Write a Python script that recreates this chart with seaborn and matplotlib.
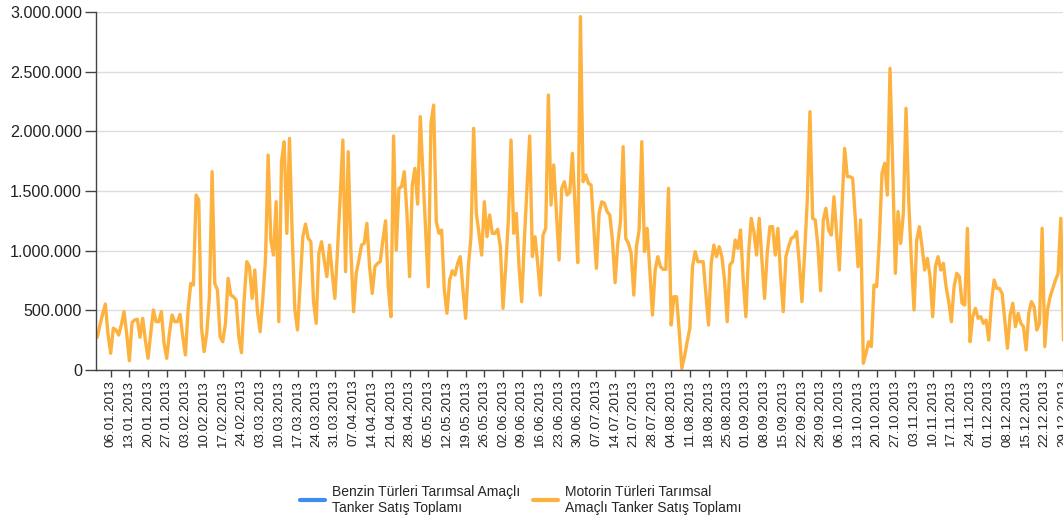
import matplotlib
matplotlib.use("Agg")
import matplotlib.pyplot as plt
from matplotlib.lines import Line2D
import pandas as pd
import seaborn as sns

# daily sales (thousands); Benzin series has no visible values
jan = [275, 380, 470, 553, 300, 140, 350, 335, 293, 380, 490, 300, 78, 397, 420, 425,
       274, 433, 250, 98, 307, 503, 405, 405, 489, 223, 98, 307, 461, 405, 405]
feb = [466, 279, 126, 503, 726, 712, 1466, 1424, 363, 154, 307, 614, 1662, 726, 670,
       279, 237, 391, 768, 628, 614, 586, 279, 145, 586, 908, 866, 600]
mar = [838, 489, 321, 600, 922, 1801, 1089, 963, 1410, 405, 1746, 1913, 1145, 1941,
       1145, 503, 335, 726, 1117, 1223, 1103, 1075, 573, 391, 978, 1075, 922, 782, 1047,
       810, 600]
apr = [1005, 1452, 1927, 824, 1829, 1005, 489, 810, 922, 1047, 1061, 1229, 866, 642,
       866, 894, 908, 1089, 1251, 698, 447, 1961, 1005, 1522, 1536, 1662, 1313, 782,
       1550, 1690]
may = [1390, 2123, 1648, 1173, 698, 2067, 2220, 1243, 1145, 1173, 670, 475, 754, 832,
       796, 894, 950, 670, 433, 866, 1117, 2025, 1313, 1145, 963, 1410, 1117, 1299, 1145,
       1145, 1179]
jun = [1033, 517, 866, 1257, 1927, 1145, 1313, 866, 573, 1089, 1536, 1961, 950, 1117,
       894, 628, 1131, 1187, 2304, 1383, 1718, 1313, 922, 1522, 1578, 1466, 1490, 1815,
       1369, 900]
jul = [2961, 1578, 1634, 1564, 1550, 1201, 852, 1313, 1410, 1397, 1327, 1299, 1089, 732,
       1061, 1243, 1871, 1103, 1061, 978, 628, 1033, 1173, 1913, 992, 1187, 838, 461,
       838, 950, 866]
aug = [843, 843, 1522, 377, 614, 614, 335, 14, 112, 237, 349, 866, 992, 908, 908, 908,
       642, 377, 894, 1047, 950, 1033, 950, 754, 405, 880, 908, 1089, 1019, 1173, 754]
sep = [447, 978, 1271, 1159, 963, 1271, 922, 600, 978, 1201, 1201, 963, 1187, 796, 489,
       950, 1033, 1103, 1117, 1159, 894, 573, 978, 1424, 2165, 1271, 1257, 1033, 665,
       1257]
oct_ = [1355, 1173, 1131, 1452, 1145, 838, 1369, 1857, 1620, 1620, 1606, 1271, 866, 1257,
        56, 140, 237, 196, 712, 698, 1089, 1648, 1732, 1466, 2528, 1700, 810, 1327, 1061,
        1313, 2193]
nov = [1424, 922, 503, 1089, 1201, 1033, 838, 936, 782, 447, 866, 950, 838, 894, 698,
       573, 405, 698, 810, 782, 559, 545, 1187, 237, 447, 517, 433, 447, 391, 419]
dec = [251, 559, 754, 684, 684, 642, 419, 182, 461, 559, 363, 475, 391, 363, 168, 475,
       573, 531, 335, 391, 1187, 196, 503, 614, 684, 754, 810, 1271, 251]

motorin = [v * 1000 for v in jan + feb + mar + apr + may + jun + jul + aug + sep + oct_ + nov + dec]
dates = pd.date_range("2013-01-01", periods=len(motorin), freq="D")
tick_dates = pd.date_range("2013-01-06", "2013-12-29", freq="7D")
tick_labels = [d.strftime("%d.%m.%Y") for d in tick_dates]
yticks = [0, 500000, 1000000, 1500000, 2000000, 2500000, 3000000]
series_names = ["Benzin Türleri Tarımsal Amaçlı\nTanker Satış Toplamı",
                "Motorin Türleri Tarımsal\nAmaçlı Tanker Satış Toplamı"]
colors = ["#3f8cf5", "#fdb240"]

sns.set_style("white")
plt.rcParams['font.family'] = ['Liberation Sans', 'DejaVu Sans']

fig = plt.figure(figsize=(10.63, 5.20), dpi=100)
ax = fig.add_axes([96 / 1063, 150 / 520, 975.5 / 1063, 358 / 520])

df = pd.DataFrame({"date": dates, "value": motorin})
sns.lineplot(data=df, x="date", y="value", color=colors[1], linewidth=2.4,
             legend=False, ax=ax)

ax.set_xlim(pd.Timestamp("2012-12-31 12:00"), pd.Timestamp("2014-01-01"))
ax.set_ylim(0, 3000000)
ax.set_xticks(tick_dates)
ax.set_xticklabels(tick_labels, rotation=90, fontsize=9.6, color="#222222")
ax.set_yticks(yticks)
ax.set_yticklabels([f"{v:,}".replace(",", ".") for v in yticks], fontsize=11.6, color="#222222")
ax.set_xlabel("")
ax.set_ylabel("")

ax.yaxis.grid(True, color="#dddddd", linewidth=1)
ax.xaxis.grid(False)
ax.set_axisbelow(True)
for side in ["top", "right"]:
    ax.spines[side].set_visible(False)
for side in ["left", "bottom"]:
    ax.spines[side].set_color("#444444")
    ax.spines[side].set_linewidth(1)
ax.tick_params(axis="y", length=8, width=1, color="#444444", pad=2, left=True)
ax.tick_params(axis="x", length=5, width=1, color="#444444", pad=2, bottom=True)

handles = [Line2D([], [], color=c, linewidth=3) for c in colors]
fig.legend(handles, series_names, loc="lower center", ncol=2, frameon=False,
           fontsize=10, bbox_to_anchor=(0.49, -0.014), handlelength=1.8,
           handletextpad=0.5, columnspacing=0.9, labelspacing=0.2)

plt.savefig("out.png", dpi=100)
